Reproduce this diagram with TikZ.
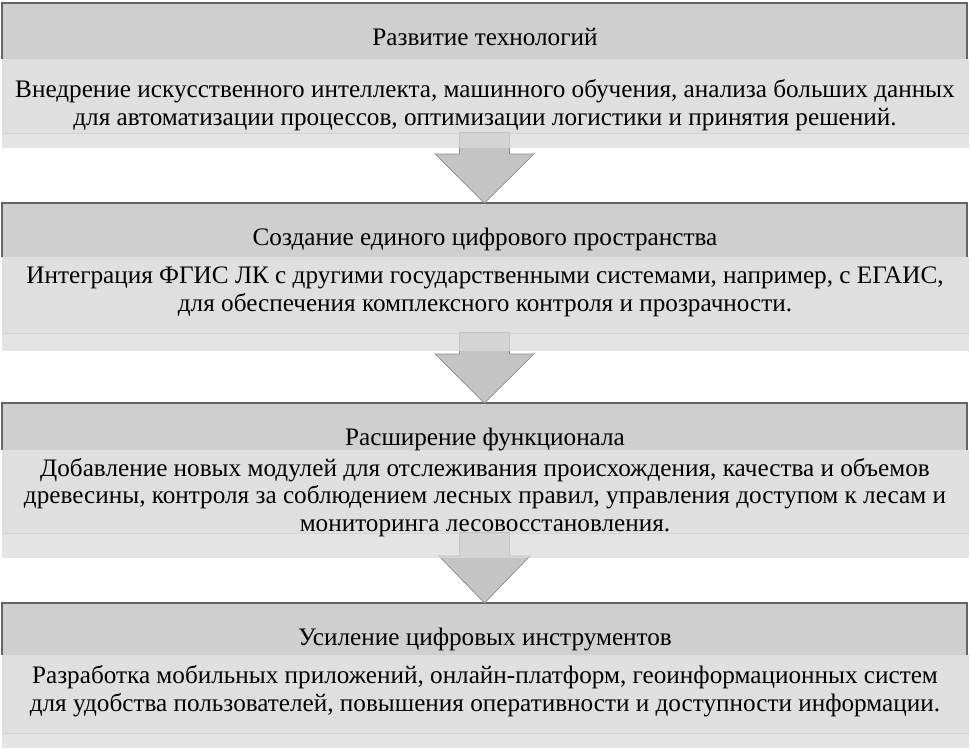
\documentclass[tikz,border=0pt]{standalone}
\usepackage{fontspec}
\setmainfont{Liberation Serif}
\usetikzlibrary{calc}
\definecolor{hdrfill}{RGB}{207,207,207}
\definecolor{hdrline}{RGB}{100,100,100}
\definecolor{bodyfill}{RGB}{223,223,223}
\definecolor{bodyline}{RGB}{210,210,210}
\definecolor{stripfill}{RGB}{218,218,218}
\definecolor{arrfill}{RGB}{196,196,196}
\definecolor{arrline}{RGB}{140,140,140}
\newcommand\dblock[5]{%
  \node[bodybox, minimum width=967pt, minimum height={(#4-#3)*1pt}, anchor=north west] (b#1) at (2,#3) {};
  \node[hdrbox, minimum width=965pt, minimum height={(#3-#2)*1pt}, anchor=north west] (h#1) at (2,#2) {};
  \draw[hdrborder] (h#1.south west) -- (h#1.north west) -- (h#1.north east) -- (h#1.south east);
}
\newcommand\dstrip[3]{%
  \node[stripbox, minimum width=967pt, minimum height={(#3-#2)*1pt}, anchor=north west] (s#1) at (b#1.south west) {};
  \draw[bodysep] (b#1.south west) -- (b#1.south east);
}
\newcommand\darrow[4]{%
  \draw[arrowbody] let \p1=(b#1.south), \p2=(h#2.north) in
    (\x2-25pt,\y1) -- (\x2+25pt,\y1) -- (\x2+25pt,\y2+#3pt) -- (\x2+#4pt,\y2+#3pt)
    -- (\x2,\y2) -- (\x2-#4pt,\y2+#3pt) -- (\x2-25pt,\y2+#3pt) -- cycle;
}
\begin{document}
\begin{tikzpicture}[x=1pt,y=-1pt,
  every node/.style={inner sep=0pt,outer sep=0pt},
  bodybox/.style={rectangle,fill=bodyfill,draw=none},
  stripbox/.style={rectangle,fill=stripfill,fill opacity=0.73,draw=none},
  hdrbox/.style={rectangle,fill=hdrfill,draw=none},
  hdrborder/.style={draw=hdrline,line width=1.1pt},
  bodysep/.style={draw=bodyline,line width=0.8pt},
  arrowbody/.style={fill=arrfill,draw=arrline,line width=0.7pt,line join=miter},
  txt/.style={anchor=base,font=\fontsize{25.2}{29}\selectfont,text=black}]
\useasboundingbox (0,0) rectangle (971,748);
\fill[white] (0,0) rectangle (971,748);

\dblock{1}{3}{59}{133}{148}
\dblock{2}{203}{257}{333}{351}
\dblock{3}{403}{450}{533}{558}
\dblock{4}{603}{655}{733}{748}

\darrow{1}{2}{49}{49.5}
\darrow{2}{3}{49}{49.5}
\darrow{3}{4}{47}{45.5}

\dstrip{1}{133}{148}
\dstrip{2}{333}{351}
\dstrip{3}{533}{558}
\dstrip{4}{733}{748}

\node[txt] (t1h) at (485,45) {Развитие технологий};
\node[txt] (t1a) at (485,97) {Внедрение искусственного интеллекта, машинного обучения, анализа больших данных};
\node[txt] (t1b) at (485,125) {для автоматизации процессов, оптимизации логистики и принятия решений.};

\node[txt] (t2h) at (485,245) {Создание единого цифрового пространства};
\node[txt] (t2a) at (485,283) {Интеграция ФГИС ЛК с другими государственными системами, например, с ЕГАИС,};
\node[txt] (t2b) at (485,311) {для обеспечения комплексного контроля и прозрачности.};

\node[txt] (t3h) at (485,445) {Расширение функционала};
\node[txt] (t3a) at (485,476) {Добавление новых модулей для отслеживания происхождения, качества и объемов};
\node[txt] (t3b) at (485,503) {древесины, контроля за соблюдением лесных правил, управления доступом к лесам и};
\node[txt] (t3c) at (485,531) {мониторинга лесовосстановления.};

\node[txt] (t4h) at (485,645) {Усиление цифровых инструментов};
\node[txt] (t4a) at (485,683) {Разработка мобильных приложений, онлайн-платформ, геоинформационных систем};
\node[txt] (t4b) at (485,711) {для удобства пользователей, повышения оперативности и доступности информации.};
\end{tikzpicture}
\end{document}
